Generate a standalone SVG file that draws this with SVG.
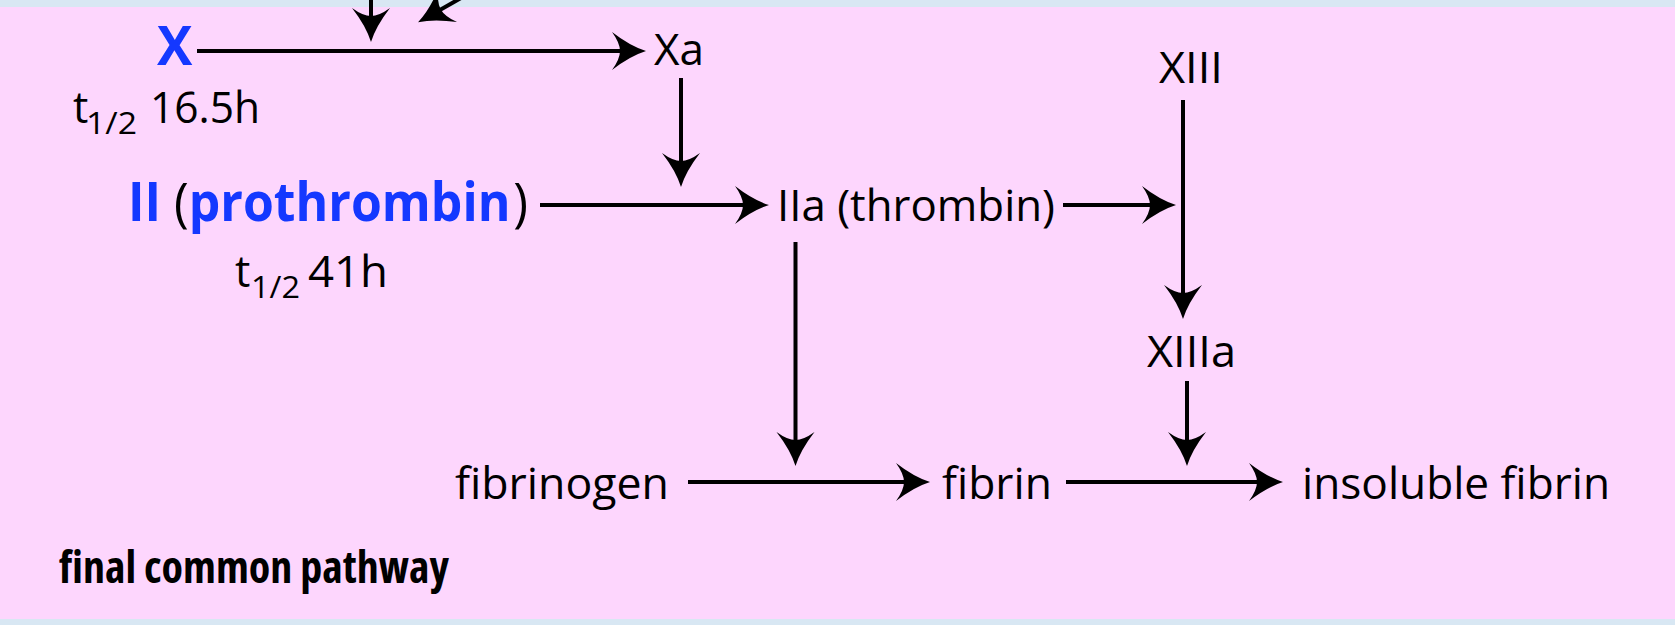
<svg xmlns="http://www.w3.org/2000/svg" width="1675" height="625" viewBox="0 0 1675 625">
  <style>
    .lbl { font-family: "Open Sans", "Noto Sans", "Liberation Sans", sans-serif; font-size: 43px; fill: #000; }
    .sub { font-family: "Open Sans", "Noto Sans", "Liberation Sans", sans-serif; font-size: 31px; fill: #000; }
    .big { font-family: "Open Sans", "Noto Sans", "Liberation Sans", sans-serif; font-size: 53px; fill: #000; }
    .fac { font-weight: bold; fill: #1438ff; }
    .ttl { font-family: "Open Sans", "Liberation Sans", sans-serif; font-size: 44px; font-weight: bold; font-stretch: condensed; fill: #000; }
    .ln { stroke: #000; stroke-width: 4; fill: none; marker-end: url(#ah); }
  </style>
  <defs>
    <!-- swept arrowhead; tip sits 24px beyond the end of the line -->
    <marker id="ah" markerUnits="userSpaceOnUse" viewBox="-36 -20 40 40" markerWidth="40" markerHeight="40" refX="-24" refY="0" orient="auto" overflow="visible">
      <path d="M0,0 Q-16,-5 -34,-19 Q-26,-8 -26,0 Q-26,8 -34,19 Q-16,5 0,0 Z" fill="#000"/>
    </marker>
  </defs>

  <!-- backdrop -->
  <rect x="0" y="0" width="1675" height="625" fill="#d8e7f3"/>
  <rect x="0" y="7" width="1675" height="612" fill="#fdd6fd"/>

  <!-- connectors -->
  <g id="connectors">
    <line class="ln" x1="197" y1="51" x2="622" y2="51"/>
    <line class="ln" x1="371" y1="-2" x2="371" y2="18"/>
    <line class="ln" x1="461" y1="-2" x2="439" y2="10.4"/>
    <line class="ln" x1="681" y1="78" x2="681" y2="163"/>
    <line class="ln" x1="540" y1="205" x2="745" y2="205"/>
    <line class="ln" x1="1063" y1="205" x2="1152" y2="205"/>
    <line class="ln" x1="1183" y1="100" x2="1183" y2="295"/>
    <line class="ln" x1="795.5" y1="242" x2="795.5" y2="442"/>
    <line class="ln" x1="688" y1="482" x2="906" y2="482"/>
    <line class="ln" x1="1187" y1="381" x2="1187" y2="442"/>
    <line class="ln" x1="1066" y1="482" x2="1259" y2="482"/>
  </g>

  <!-- nodes -->
  <g id="factor-x">
    <text class="big fac" x="157" y="65">X</text>
    <text class="lbl" x="73" y="123">t</text>
    <text class="sub" x="86" y="134" textLength="51" lengthAdjust="spacingAndGlyphs">1/2</text>
    <text class="lbl" x="150" y="123" textLength="110" lengthAdjust="spacingAndGlyphs">16.5h</text>
  </g>
  <g id="factor-xa">
    <text class="lbl" x="654" y="65" textLength="50" lengthAdjust="spacingAndGlyphs">Xa</text>
  </g>
  <g id="factor-xiii">
    <text class="lbl" x="1159" y="83" textLength="64" lengthAdjust="spacingAndGlyphs">XIII</text>
  </g>
  <g id="prothrombin">
    <text class="big" x="128" y="221" textLength="400" lengthAdjust="spacingAndGlyphs"><tspan class="fac">II</tspan> (<tspan class="fac">prothrombin</tspan><tspan dx="3">)</tspan></text>
    <text class="lbl" x="235" y="287">t</text>
    <text class="sub" x="251" y="298" textLength="49" lengthAdjust="spacingAndGlyphs">1/2</text>
    <text class="lbl" x="308" y="287" textLength="80" lengthAdjust="spacingAndGlyphs">41h</text>
  </g>
  <g id="thrombin">
    <text class="lbl" x="777" y="221" textLength="278" lengthAdjust="spacingAndGlyphs">IIa (thrombin)</text>
  </g>
  <g id="factor-xiiia">
    <text class="lbl" x="1147" y="367" textLength="89" lengthAdjust="spacingAndGlyphs">XIIIa</text>
  </g>
  <g id="fibrinogen">
    <text class="lbl" x="455" y="499" textLength="214" lengthAdjust="spacingAndGlyphs">fibrinogen</text>
  </g>
  <g id="fibrin">
    <text class="lbl" x="942" y="499" textLength="110" lengthAdjust="spacingAndGlyphs">fibrin</text>
  </g>
  <g id="insoluble-fibrin">
    <text class="lbl" x="1302" y="499" textLength="308" lengthAdjust="spacingAndGlyphs">insoluble fibrin</text>
  </g>
  <g id="caption">
    <text class="ttl" x="59" y="583" textLength="390" lengthAdjust="spacingAndGlyphs">final common pathway</text>
  </g>
</svg>
